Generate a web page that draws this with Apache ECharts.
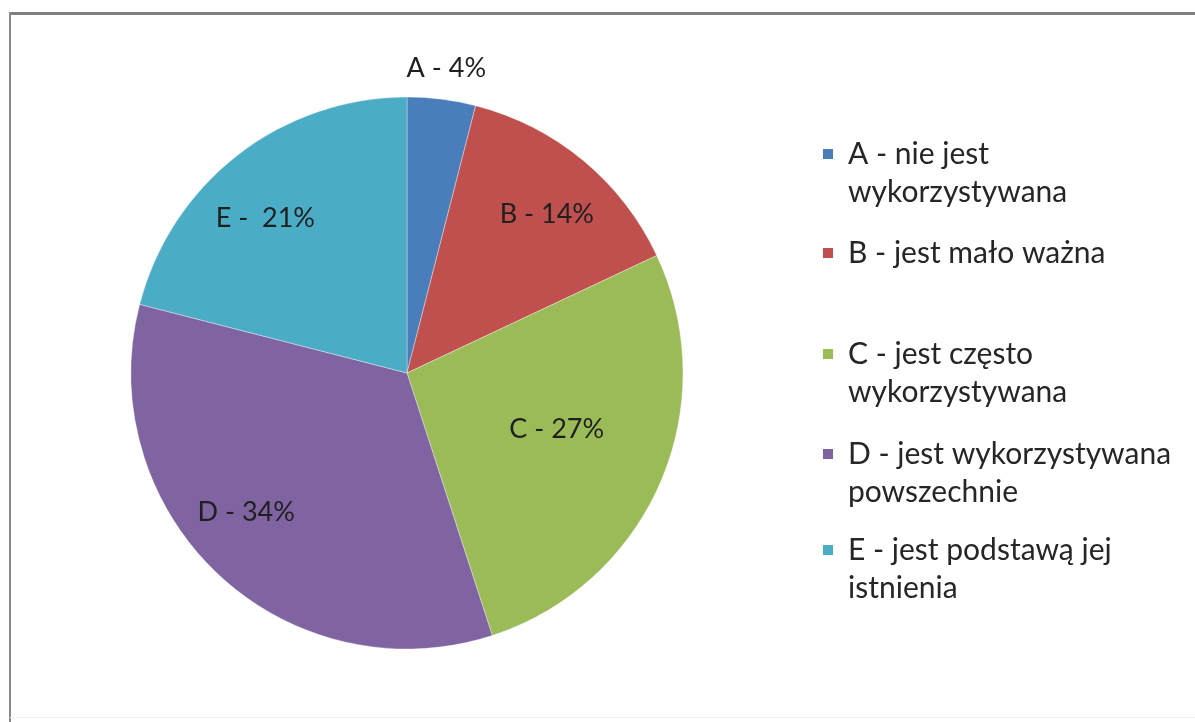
<!DOCTYPE html>
<html>
<head>
<meta charset="utf-8">
<script src="https://cdn.jsdelivr.net/npm/echarts@6/dist/echarts.min.js"></script>
<style>
html,body{margin:0;padding:0;background:#fff;}
#chart{width:1195px;height:722px;}
</style>
</head>
<body>
<div id="chart"></div>
<script>
// ---- data ----
const categories = ['A', 'B', 'C', 'D', 'E'];
const legendLabels = [
  'A - nie jest\nwykorzystywana',
  'B - jest mało ważna',
  'C - jest często\nwykorzystywana',
  'D - jest wykorzystywana\npowszechnie',
  'E - jest podstawą jej\nistnienia'
];
const sliceLabels = ['A - 4%', 'B - 14%', 'C - 27%', 'D - 34%', 'E -  21%'];
const values = [4, 14, 27, 34, 21];
const colors = ['#4a7ebb', '#c0504d', '#9bbb59', '#8064a2', '#4bacc6'];

// ---- layout/style (not data) ----
const CX = 407, CY = 373, R = 276;
const labelOffsets = [[13, -96], [6, 3], [-43, -27], [-17, -14], [-13, 11]];
const legendTops = [154, 253, 354, 454, 550];
const FONT = 'Lato, "Open Sans", sans-serif';

const chart = echarts.init(document.getElementById('chart'), null, {renderer: 'canvas'});

const pieData = categories.map((c, i) => ({
  name: legendLabels[i],
  value: values[i],
  itemStyle: {color: colors[i]}
}));
const labelData = categories.map((c, i) => ({
  name: legendLabels[i],
  value: values[i],
  label: {offset: labelOffsets[i]}
}));

const graphic = [
  {type: 'line', shape: {x1: 9, y1: 13.5, x2: 1195, y2: 13.5}, style: {stroke: '#808080', lineWidth: 3}, silent: true},
  {type: 'line', shape: {x1: 10, y1: 12, x2: 10, y2: 722}, style: {stroke: '#8a8a8a', lineWidth: 2}, silent: true},
  {type: 'line', shape: {x1: 10, y1: 717.5, x2: 1195, y2: 717.5}, style: {stroke: '#f0f0f0', lineWidth: 1}, silent: true}
];
legendLabels.forEach((t, i) => {
  graphic.push({type: 'rect', shape: {x: 823, y: legendTops[i] - 5, width: 10, height: 10}, style: {fill: colors[i]}, silent: true});
  graphic.push({type: 'text', x: 848, y: legendTops[i] - 19, style: {text: t, font: '30px ' + FONT, fill: '#262626', lineHeight: 38, verticalAlign: 'top'}, silent: true});
});

chart.setOption({
  animation: false,
  backgroundColor: '#fff',
  graphic: graphic,
  series: [
    {
      type: 'pie',
      center: [CX, CY],
      radius: [0, R],
      startAngle: 90,
      clockwise: true,
      silent: true,
      label: {show: false},
      labelLine: {show: false},
      itemStyle: {borderColor: 'rgba(255,255,255,0.35)', borderWidth: 1},
      data: pieData
    },
    {
      type: 'pie',
      center: [CX, CY],
      radius: [R * 0.5, R],
      startAngle: 90,
      clockwise: true,
      silent: true,
      itemStyle: {color: 'rgba(0,0,0,0)', borderWidth: 0},
      label: {
        show: true,
        position: 'inside',
        formatter: p => sliceLabels[p.dataIndex],
        fontFamily: FONT,
        fontSize: 27,
        color: '#1f1f1f'
      },
      labelLine: {show: false},
      data: labelData
    }
  ]
});
</script>
</body>
</html>
